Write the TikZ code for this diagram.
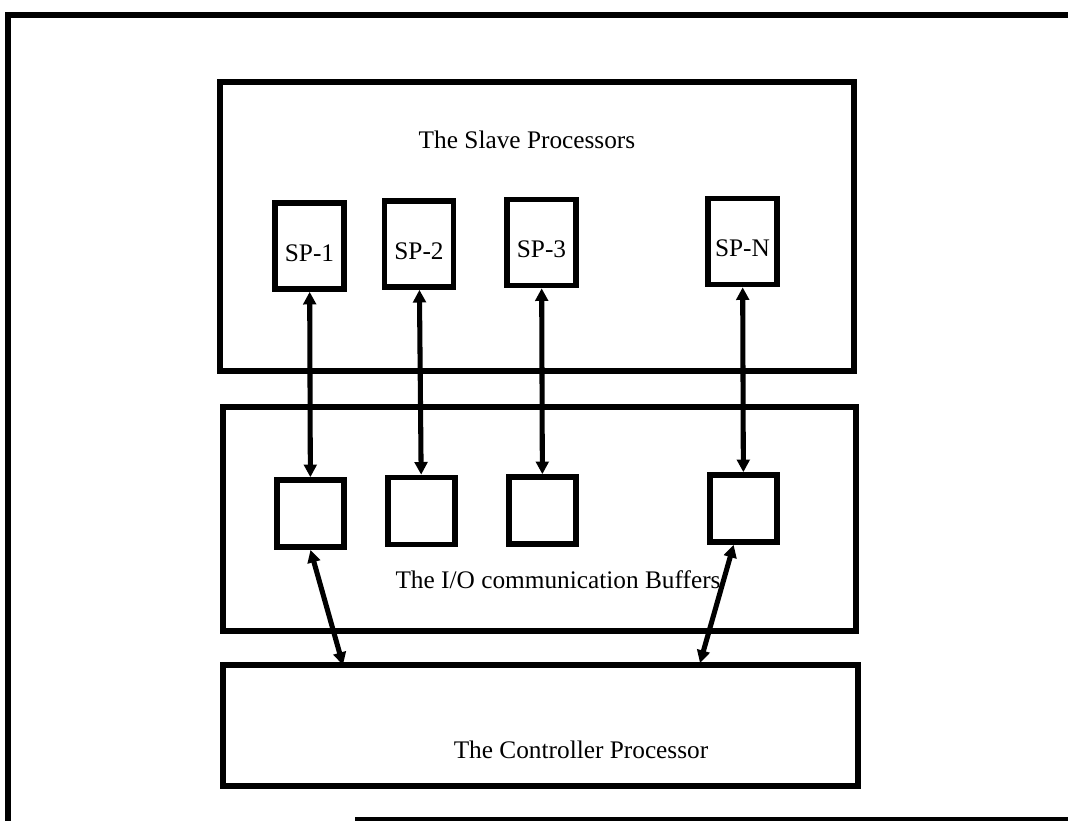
\documentclass[tikz,border=0pt]{standalone}
\usepackage{fontspec}
\setmainfont{Liberation Serif}
\usepackage{tikz}
\usetikzlibrary{arrows.meta,fit}

\begin{document}
\begin{tikzpicture}[x=0.025cm,y=-0.025cm,line width=4pt,>={Triangle[length=9pt,width=9pt]},
  big box/.style={draw,rectangle,inner sep=0pt},
  sp node/.style={draw,rectangle,minimum width=1.725cm,minimum height=2.15cm,inner sep=0pt,
    text height=22pt,text depth=0pt,font=\fontsize{18}{20}\selectfont},
  buf node/.style={draw,rectangle,minimum width=1.675cm,minimum height=1.675cm,inner sep=0pt},
  title/.style={font=\fontsize{18}{20}\selectfont}]
  \tikzset{link/.style = {<->,line width=3.6pt}}
  \useasboundingbox (0,0) rectangle (1068,821);
  % outer frame
  \draw (1068,15) -- (8,15) -- (8,821);
  \draw (355,820) -- (1068,820);

  \node[big box, fit={(220,82) (854,371)}] (slave) {};
  \node[big box, fit={(223,407) (856,631)}] (io) {};
  \node[big box, fit={(223,665) (858,786)}] (ctrl) {};
  \node[title] (slavetitle) at (527,140) {The Slave Processors};
  \node[title] (iotitle) at (558,580) {The I/O communication Buffers};
  \node[title] (ctrltitle) at (581,750) {The Controller Processor};

  \node[sp node] (sp1) at (309.5,246) {SP-1};
  \node[sp node] (sp2) at (419,244) {SP-2};
  \node[sp node] (sp3) at (541.5,242.5) {SP-3};
  \node[sp node] (spn) at (742.5,241.5) {SP-N};
  \node[buf node] (buf1) at (310.5,513.5) {};
  \node[buf node] (buf2) at (421.5,511) {};
  \node[buf node] (buf3) at (542.5,510.5) {};
  \node[buf node] (bufn) at (743.5,508.5) {};
  \coordinate (ctrlin1) at (343,665);
  \coordinate (ctrlinn) at (700,663);

    \path[link]
    (sp1) edge (buf1)
    (sp2) edge (buf2)
    (sp3) edge (buf3)
    (spn) edge (bufn)
    (buf1.south) edge (ctrlin1)
    ([xshift=-7pt]bufn.south) edge (ctrlinn);
\end{tikzpicture}
\end{document}
